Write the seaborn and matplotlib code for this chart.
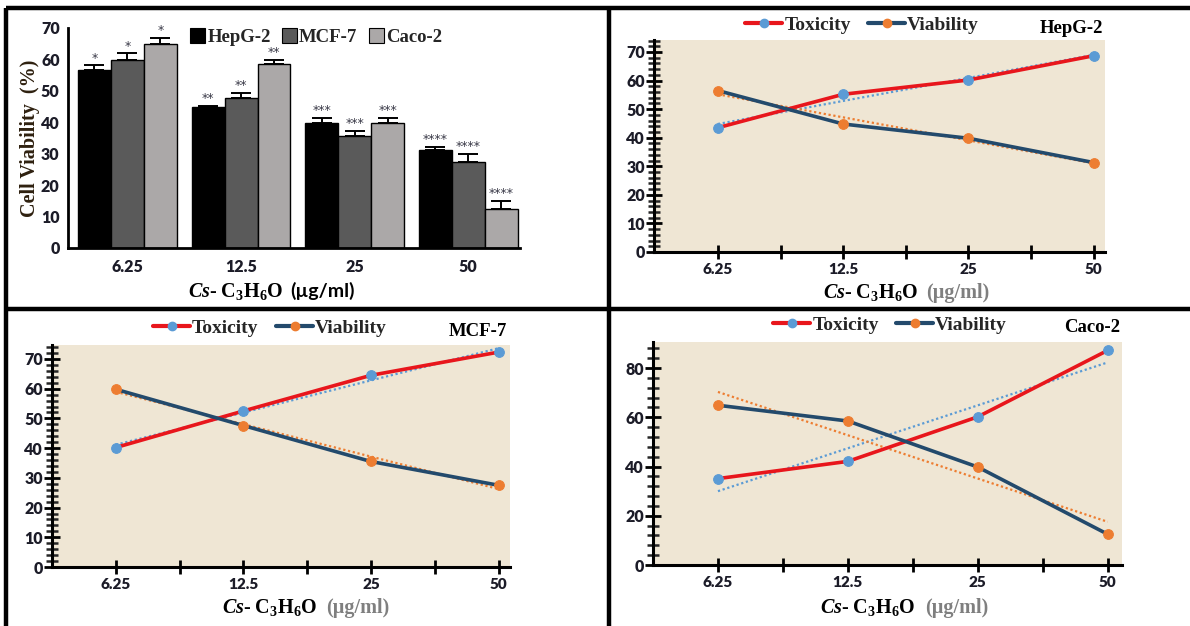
import numpy as np
import pandas as pd
import matplotlib
matplotlib.use("Agg")
import matplotlib.pyplot as plt
import seaborn as sns
from matplotlib.lines import Line2D
from matplotlib.patches import Patch
from matplotlib.ticker import FixedLocator, MultipleLocator

# ---------------- data ----------------
categories = ["6.25", "12.5", "25", "50"]
cell_lines = ["HepG-2", "MCF-7", "Caco-2"]

hepg2_viability = [56.5, 44.8, 39.8, 31.3]
mcf7_viability = [59.8, 47.6, 35.5, 27.5]
caco2_viability = [64.9, 58.5, 39.8, 12.5]

hepg2_err = [1.6, 0.4, 1.6, 0.8]
mcf7_err = [2.1, 1.7, 1.7, 2.5]
caco2_err = [2.0, 1.3, 1.6, 2.5]

significance = ["*", "**", "***", "****"]

hepg2_toxicity = [43.5, 55.2, 60.2, 68.7]
mcf7_toxicity = [40.2, 52.5, 64.5, 72.3]
caco2_toxicity = [35.1, 42.1, 60.2, 87.2]

bar_colors = ["#000000", "#5a5a5a", "#aba8a8"]
TOX_LINE, TOX_MARK = "#e8161c", "#5b9bd5"
VIA_LINE, VIA_MARK = "#234a6c", "#ed7d31"
BG = "#efe6d4"

sns.set_style("white")
plt.rcParams["mathtext.fontset"] = "custom"
plt.rcParams["mathtext.rm"] = "Liberation Serif:bold"
plt.rcParams["mathtext.it"] = "Liberation Serif:italic:bold"
plt.rcParams["mathtext.bf"] = "Liberation Serif:bold"

W, H = 1190, 626
fig = plt.figure(figsize=(W / 100, H / 100), dpi=100)
fig.patch.set_facecolor("white")


def px_axes(left, top, right, bottom):
    return fig.add_axes([left / W, 1 - bottom / H, (right - left) / W, (bottom - top) / H])


def fx(x):
    return x / W


def fy(y):
    return 1 - y / H


SERIF = "Liberation Serif"
SANS = "Lato"
TICK_SIZE = 11


def xlabel(x, y, unit_x, unit_color, unit_family):
    fig.text(fx(x), fy(y), r"$\mathit{Cs}$- C$_\mathrm{3}$H$_\mathrm{6}$O",
             family=SERIF, weight="bold", fontsize=14.5, ha="left", va="baseline", color="black")
    fig.text(fx(unit_x), fy(y), "(µg/ml)", family=unit_family, weight="bold",
             fontsize=14.5 if unit_family == SERIF else 14, ha="left", va="baseline",
             color=unit_color)


# ---------------- bar chart ----------------
ax = px_axes(68, 28, 520, 248)
rows = []
for line, vals in zip(cell_lines, [hepg2_viability, mcf7_viability, caco2_viability]):
    for c, v in zip(categories, vals):
        rows.append({"conc": c, "line": line, "viability": v})
df = pd.DataFrame(rows)
sns.barplot(data=df, x="conc", y="viability", hue="line", order=categories,
            hue_order=cell_lines, palette=bar_colors, width=0.87, gap=0,
            errorbar=None, edgecolor="black", linewidth=1.0, ax=ax, legend=False)
errs = [hepg2_err, mcf7_err, caco2_err]
for cont, err in zip(ax.containers, errs):
    for bar, e, s in zip(cont, err, significance):
        cx = bar.get_x() + bar.get_width() / 2
        top = bar.get_height()
        ax.errorbar([cx], [top], yerr=[[0], [e]], fmt="none", ecolor="black",
                    elinewidth=1.4, capsize=7, capthick=1.4)
        ax.text(cx, top + e + 0.2, s, ha="center", va="bottom", fontsize=9,
                color="#3a3a48", family="DejaVu Sans")
ax.set_xlim(-0.523, 3.455)
ax.set_ylim(0, 70)
ax.yaxis.set_major_locator(MultipleLocator(10))
for sp in ["top", "right"]:
    ax.spines[sp].set_visible(False)
for sp in ["left", "bottom"]:
    ax.spines[sp].set_linewidth(2)
    ax.spines[sp].set_color("black")
ax.tick_params(axis="y", direction="out", length=5, width=2, labelsize=TICK_SIZE + 0.5, pad=1,
               colors="black")
ax.tick_params(axis="x", length=0, labelsize=TICK_SIZE + 0.5, pad=8)
for lab in ax.get_xticklabels() + ax.get_yticklabels():
    lab.set_family(SANS)
    lab.set_weight("heavy")
    lab.set_color("#1c1c28")
ax.set_xlabel("")
ax.set_ylabel("Cell Viability  (%)", family=SERIF, weight="bold", fontsize=14.5,
              color="#2e200f", labelpad=1)
ax.set_facecolor("white")
handles = [Patch(facecolor=c, edgecolor="black", linewidth=0.8) for c in bar_colors]
fig.legend(handles, cell_lines, loc="center", bbox_to_anchor=(fx(316), fy(37)), ncol=3,
           frameon=False, prop={"family": SERIF, "weight": "bold", "size": 13.5},
           handlelength=0.8, handleheight=0.8, handletextpad=0.12, columnspacing=0.6)
xlabel(188, 297, 290, "black", SANS)


# ---------------- line charts ----------------
def line_panel(box, xlim, ylim, major, minor, tox, via, title, legend_c, title_pos, xl):
    a = px_axes(*box)
    a.set_facecolor(BG)
    xs = list(range(len(categories)))
    d = pd.DataFrame({"x": xs * 2, "val": list(tox) + list(via),
                      "series": ["Toxicity"] * 4 + ["Viability"] * 4})
    for name, lc, mc in [("Toxicity", TOX_LINE, TOX_MARK), ("Viability", VIA_LINE, VIA_MARK)]:
        sub = d[d.series == name]
        sns.lineplot(data=sub, x="x", y="val", color=lc, linewidth=2.6, marker="o",
                     markersize=7, markerfacecolor=mc, markeredgecolor=mc, ax=a,
                     legend=False, zorder=3)
        k, b0 = np.polyfit(sub.x.values, sub.val.values, 1)
        tx = np.array([xs[0], xs[-1]])
        a.plot(tx, k * tx + b0, linestyle=(0, (1, 1.2)), color=mc, linewidth=1.6, zorder=2)
    a.set_xlim(*xlim)
    a.set_ylim(*ylim)
    a.xaxis.set_major_locator(FixedLocator(xs))
    a.xaxis.set_minor_locator(FixedLocator([0.5, 1.5, 2.5]))
    a.set_xticklabels(categories)
    a.yaxis.set_major_locator(MultipleLocator(major))
    a.yaxis.set_minor_locator(MultipleLocator(minor))
    for sp in ["top", "right"]:
        a.spines[sp].set_visible(False)
    for sp in ["left", "bottom"]:
        a.spines[sp].set_linewidth(2.2)
        a.spines[sp].set_color("black")
    a.tick_params(axis="x", which="both", direction="inout", length=10, width=2,
                  labelsize=TICK_SIZE, pad=3, colors="black", bottom=True)
    a.tick_params(axis="y", which="major", direction="inout", length=11, width=2,
                  labelsize=TICK_SIZE + 0.5, pad=1, colors="black", left=True)
    a.tick_params(axis="y", which="minor", direction="inout", length=8, width=1.8, left=True)
    for lab in a.get_xticklabels() + a.get_yticklabels():
        lab.set_family(SANS)
        lab.set_weight("heavy")
        lab.set_color("#1c1c28")
    a.set_xlabel("")
    a.set_ylabel("")
    hs = [Line2D([0], [0], color=TOX_LINE, lw=3, marker="o", markersize=6,
                 markerfacecolor=TOX_MARK, markeredgecolor=TOX_MARK),
          Line2D([0], [0], color=VIA_LINE, lw=3, marker="o", markersize=6,
                 markerfacecolor=VIA_MARK, markeredgecolor=VIA_MARK)]
    fig.legend(hs, ["Toxicity", "Viability"], loc="center",
               bbox_to_anchor=(fx(legend_c[0]), fy(legend_c[1])), ncol=2, frameon=False,
               prop={"family": SERIF, "weight": "bold", "size": 14},
               handlelength=1.9, handletextpad=0.1, columnspacing=0.9)
    fig.text(fx(title_pos[0]), fy(title_pos[1]), title, family=SERIF, weight="bold",
             fontsize=13.5, ha="right", va="baseline", color="black")
    xlabel(*xl, "#7f7f7f", SERIF)
    return a


line_panel((654, 40, 1105, 252), (-0.51, 3.09), (0, 74.2), 10, 2,
           hepg2_toxicity, hepg2_viability, "HepG-2", (862, 25), (1103, 33),
           (823, 298, 926))
line_panel((52, 345, 510, 567), (-0.50, 3.09), (0, 74.7), 10, 2,
           mcf7_toxicity, mcf7_viability, "MCF-7", (270, 328), (507, 336),
           (222, 613, 326))
line_panel((653, 342, 1122, 565), (-0.50, 3.11), (0, 90.6), 20, 4,
           caco2_toxicity, caco2_viability, "Caco-2", (890, 325), (1120, 332),
           (820, 613, 925))

# ---------------- panel frames ----------------
for (x0, y0, x1, y1) in [(6, 8, 6, 626), (6, 8, 1190, 8), (609, 8, 609, 626), (6, 309, 1190, 309)]:
    fig.add_artist(Line2D([fx(x0), fx(x1)], [fy(y0), fy(y1)], transform=fig.transFigure,
                          color="black", linewidth=3.2, solid_capstyle="butt"))

fig.savefig("out.png", dpi=100, facecolor="white")
